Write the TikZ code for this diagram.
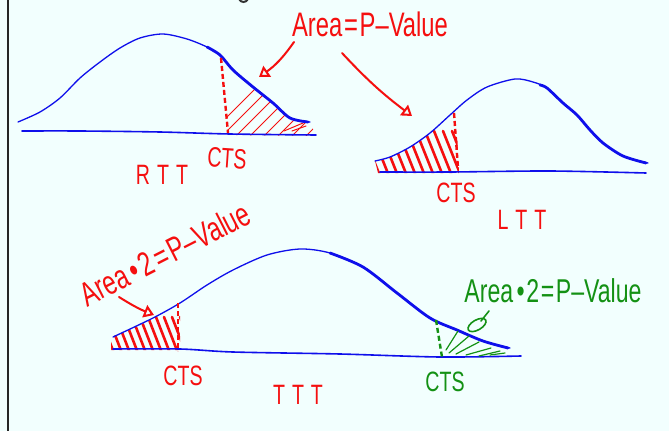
\documentclass[tikz,border=0pt]{standalone}
\usepackage{fontspec}
\newfontfamily\hand[FakeStretch=0.7]{Liberation Sans}
\usetikzlibrary{arrows.meta}
\definecolor{penblue}{RGB}{15,15,235}
\definecolor{penred}{RGB}{245,15,15}
\definecolor{pengreen}{RGB}{20,145,20}
\definecolor{bgc}{RGB}{242,255,254}
\begin{document}
\begin{tikzpicture}[x=1pt,y=-1pt,
 thincurve/.style={draw=penblue, line width=1.3pt, line join=round, line cap=round},
 thickcurve/.style={draw=penblue, line width=2.8pt, line join=round, line cap=round},
 axisline/.style={draw=penblue, line width=1.6pt, line cap=round},
 cutline/.style={line width=2.4pt, dash pattern=on 5pt off 3pt},
 fineh/.style={line width=1pt, line cap=round},
 boldh/.style={line width=2.6pt, line cap=round},
 lbl/.style={inner sep=0pt, font=\hand\fontsize{#1}{#1}\selectfont},
 pointer/.style={line width=2pt, line cap=round, line join=round, -{Triangle[open,length=10pt,width=13pt]}},
]
\fill[bgc] (0,0) rectangle (669,431);
\useasboundingbox (0,0) rectangle (669,431);
\draw[line width=2.7pt, black!85] (8,0) -- (8,431);
\draw[line width=2pt, black!80, line cap=round] (239,-1) .. controls (241,3) and (246,3) .. (248,-1);

% ---------- RTT ----------
\begin{scope}
\clip plot[smooth] coordinates {(220,55) (233,70) (253,87) (273,103) (290,118) (310,122)} -- (316,136) -- (228,135) -- cycle;
\foreach \x in {206,220,...,320} \draw[penred, fineh] (\x,138) -- ++(90,-90);
\end{scope}
\draw[penred, fineh] (284,131) -- (303,123);
\draw[penred, fineh] (292,131) -- (306,126);
\draw[thincurve] plot[smooth] coordinates {(18,122) (40,112) (60,98) (80,78) (100,62) (120,48) (140,38) (163,34) (187,39) (207,47) (220,55) (233,70) (253,87) (273,103) (290,118) (310,122)};
\draw[thickcurve] plot[smooth] coordinates {(207,47) (220,55) (233,70) (253,87) (273,103) (290,118) (308,122)};
\draw[axisline] plot[smooth] coordinates {(22,131) (80,131) (160,132) (230,134) (316,135)};
\draw[penred, cutline] (221,58) -- (228,133);

% ---------- LTT ----------
\begin{scope}
\clip plot[smooth] coordinates {(375,161) (390,157) (410,147) (430,133) (450,115) (456,111)} -- (459,173) -- (378,173) -- cycle;
\foreach \x in {380,389,...,480} \draw[penred, boldh] (\x,176) -- ++(-18,-45);
\end{scope}
\draw[thincurve] plot[smooth] coordinates {(375,161) (390,157) (410,147) (430,133) (450,115) (467,100) (487,87) (515,79) (533,82) (547,88) (563,103) (577,115) (590,130) (603,143) (623,156) (648,163)};
\draw[thickcurve] plot[smooth] coordinates {(540,85) (547,88) (563,103) (577,115) (590,130) (603,143) (623,156) (646,163)};
\draw[axisline] plot[smooth] coordinates {(380,172) (450,172) (550,171) (646,173)};
\draw[penred, cutline] (454,113) -- (458,168);

% ---------- TTT ----------
\begin{scope}
\clip plot[smooth] coordinates {(111,337) (140,325) (160,314) (180,302)} -- (180,350) -- (111,350) -- cycle;
\foreach \x in {114,122,...,200} \draw[penred, boldh] (\x,353) -- ++(-14,-36);
\end{scope}
\draw[thincurve] plot[smooth] coordinates {(113,337) (153,318) (180,303) (207,285) (233,270) (267,255) (300,249) (330,253) (363,267) (397,293) (430,318) (457,330) (483,341) (510,348)};
\draw[thickcurve] plot[smooth] coordinates {(330,253) (363,267) (397,293) (430,318) (457,330) (483,341) (508,348)};
\draw[axisline] plot[smooth] coordinates {(113,349) (180,349) (233,352) (340,354) (440,357) (521,356)};
\draw[penred, cutline] (178,303) -- (178,351);
\draw[pengreen, cutline] (436,320) -- (442,357);
\foreach \a/\b/\c/\d in {446/350/458/331, 449/353/469/336, 456/354/479/342, 466/355/491/348, 479/356/500/351, 490/355/505/353}
  \draw[pengreen, line width=1.2pt, line cap=round] (\a,\b) -- (\c,\d);
\draw[pengreen, line width=1.6pt, line cap=round] (489,311) -- (481,321);
\draw[pengreen, line width=1.6pt, rotate around={30:(477,325)}] (477,325) ellipse (10 and 5);

% ---------- labels ----------
\node[lbl=34, text=penred] (topnote) at (370,24) {Area\hspace{0.05em}=\hspace{0.05em}P–Value};
\node[lbl=28, text=penred, rotate=-4] (ctsR) at (227,158) {CTS};
\node[lbl=28, text=penred] (rtt) at (162,175) {R\hspace{0.25em}T\hspace{0.25em}T};
\node[lbl=28, text=penred] (ctsL) at (456,193) {CTS};
\node[lbl=28, text=penred] (ltt) at (522,220) {L\hspace{0.25em}T\hspace{0.25em}T};
\node[lbl=34, text=penred, rotate=27] (twonote) at (165,254) {Area\hspace{0.12em}•\hspace{0.08em}2\hspace{0.08em}=\hspace{0.08em}P–Value};
\node[lbl=28, text=penred] (ctsT) at (183,376) {CTS};
\node[lbl=28, text=penred] (ttt) at (298,395) {T\hspace{0.25em}T\hspace{0.25em}T};
\node[lbl=33, text=pengreen] (greennote) at (553,291) {Area\hspace{0.1em}•\hspace{0.05em}2\hspace{0.05em}=\hspace{0.05em}P–Value};
\node[lbl=28, text=pengreen] (ctsG) at (445,382) {CTS};

% ---------- pointers ----------
\coordinate (p1s) at (294,42); \coordinate (p1e) at (259,77);
\coordinate (p2s) at (342,53); \coordinate (p2e) at (412,116);
\coordinate (p3s) at (119,297); \coordinate (p3e) at (154,315);
\draw[penred, pointer] (p1s) to[bend left=10] (p1e);
\draw[penred, pointer] (p2s) to[bend right=5] (p2e);
\draw[penred, pointer] (p3s) to[bend right=5] (p3e);
\end{tikzpicture}
\end{document}
